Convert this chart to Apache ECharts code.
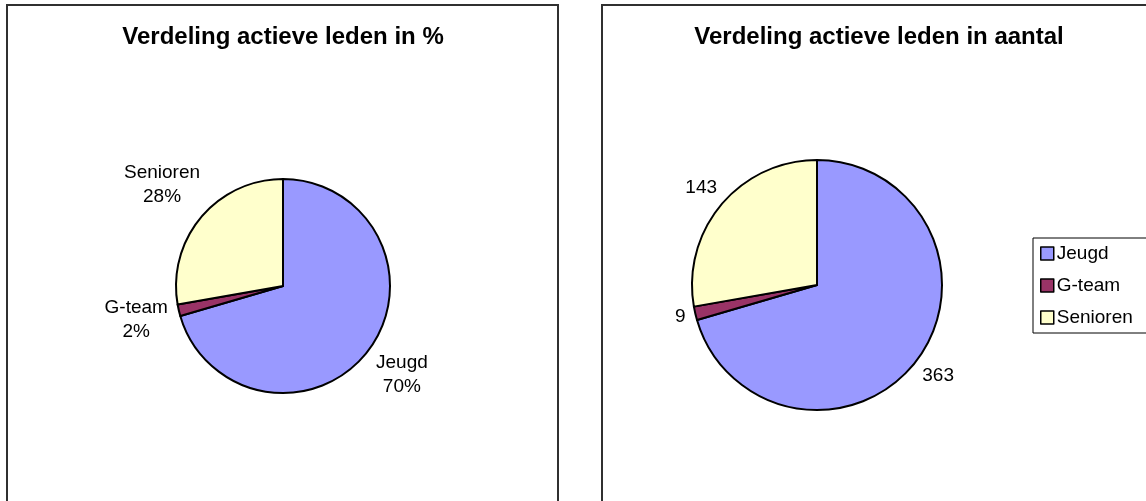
<!DOCTYPE html>
<html>
<head>
<meta charset="utf-8">
<title>Verdeling actieve leden</title>
<script src="https://cdn.jsdelivr.net/npm/echarts@6/dist/echarts.min.js"></script>
<style>
  html, body { margin: 0; padding: 0; background: #fff; }
  #chartLeden { width: 1146px; height: 501px; }
</style>
</head>
<body>
<div id="chartLeden"></div>
<script>
// categorieën en aantallen
const categories = ['Jeugd', 'G-team', 'Senioren'];
const aantallen = [363, 9, 143];
const kleuren = ['#9999FF', '#993366', '#FFFFCC'];
const titels = ['Verdeling actieve leden in %', 'Verdeling actieve leden in aantal'];

const FONT = 'Liberation Sans, Arial, Helvetica, sans-serif';

const pieData = categories.map(function (name, i) {
  return { name: name, value: aantallen[i], itemStyle: { color: kleuren[i] } };
});

// label zoals Excel: net buiten de cirkel, gecentreerd op de middenhoek
function excelLabel(gap) {
  return function (params) {
    const pts = params.labelLinePoints;
    if (!pts) return {};
    let ux = pts[1][0] - pts[0][0];
    let uy = pts[1][1] - pts[0][1];
    const len = Math.sqrt(ux * ux + uy * uy) || 1;
    ux /= len; uy /= len;
    const hw = params.labelRect.width / 2;
    const hh = params.labelRect.height / 2;
    const d = gap + Math.abs(ux) * hw + Math.abs(uy) * hh;
    return {
      x: pts[0][0] + ux * d,
      y: pts[0][1] + uy * d,
      align: 'center',
      verticalAlign: 'middle'
    };
  };
}

const chartLeden = echarts.init(document.getElementById('chartLeden'));
const option = {
  animation: false,
  textStyle: { fontFamily: FONT },
  graphic: [
    { type: 'rect', shape: { x: 7, y: 5, width: 551, height: 600 },
      style: { fill: 'none', stroke: '#303030', lineWidth: 2 } },
    { type: 'rect', shape: { x: 602, y: 5, width: 600, height: 600 },
      style: { fill: 'none', stroke: '#303030', lineWidth: 2 } }
  ],
  title: [
    {
      text: titels[0], left: 283, top: 25, padding: 0, textAlign: 'center',
      textStyle: { fontFamily: FONT, fontSize: 24, fontWeight: 'bold', color: '#000' }
    },
    {
      text: titels[1], left: 879, top: 25, padding: 0, textAlign: 'center',
      textStyle: { fontFamily: FONT, fontSize: 24, fontWeight: 'bold', color: '#000' }
    }
  ],
  legend: {
    orient: 'vertical',
    left: 1033,
    top: 238,
    padding: [6, 40, 6, 7],
    borderColor: '#000',
    borderWidth: 1,
    icon: 'rect',
    itemWidth: 13,
    itemHeight: 13,
    itemGap: 13,
    selectedMode: false,
    itemStyle: { borderColor: '#000', borderWidth: 1.5 },
    textStyle: { fontFamily: FONT, fontSize: 19, color: '#000', padding: [0, 0, 0, -2] },
    data: categories
  },
  series: [
    {
      name: 'procent',
      type: 'pie',
      center: [283, 286],
      radius: 107,
      startAngle: 90,
      clockwise: true,
      percentPrecision: 0,
      avoidLabelOverlap: false,
      itemStyle: { borderColor: '#000', borderWidth: 2 },
      label: {
        position: 'outside',
        formatter: '{t|{b}}\n{t|{d}%}',
        rich: { t: { fontFamily: FONT, fontSize: 19, lineHeight: 24, color: '#000', align: 'center' } }
      },
      labelLine: { show: true, length: 10, length2: 0, lineStyle: { opacity: 0 } },
      labelLayout: excelLabel(8),
      data: pieData
    },
    {
      name: 'aantal',
      type: 'pie',
      center: [817, 285],
      radius: 125,
      startAngle: 90,
      clockwise: true,
      avoidLabelOverlap: false,
      itemStyle: { borderColor: '#000', borderWidth: 2 },
      label: {
        position: 'outside',
        formatter: '{c}',
        fontFamily: FONT,
        fontSize: 19,
        color: '#000'
      },
      labelLine: { show: true, length: 10, length2: 0, lineStyle: { opacity: 0 } },
      labelLayout: excelLabel(8),
      data: pieData
    }
  ]
};
chartLeden.setOption(option);
</script>
</body>
</html>
